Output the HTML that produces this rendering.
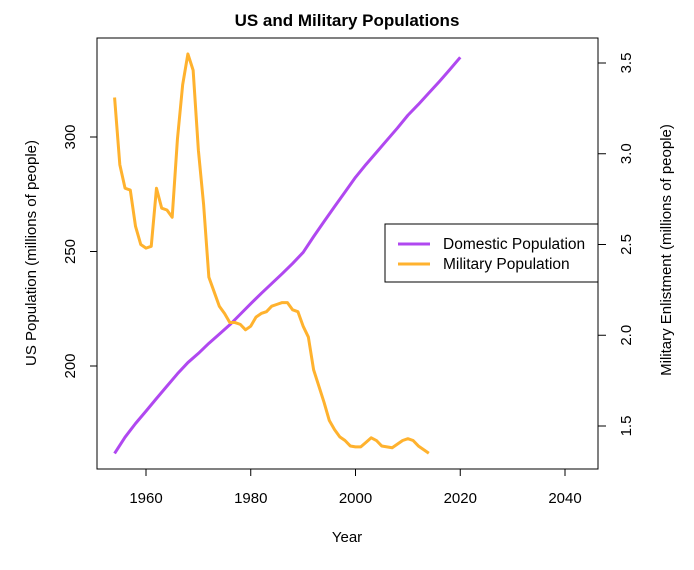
<!DOCTYPE html>
<html><head><meta charset="utf-8"><style>
body{margin:0;background:#fff}
svg text{font-family:"Liberation Sans",sans-serif;fill:#000}
</style></head><body>
<svg id="c" width="694" height="565">
<text x="347" y="26" text-anchor="middle" font-size="17" font-weight="bold">US and Military Populations</text>
<rect x="97" y="38" width="501" height="431" fill="none" stroke="#000"/>
<g id="axes"></g>
<g id="series"></g>
<text x="347" y="542" text-anchor="middle" font-size="15">Year</text>
<text transform="translate(36,253) rotate(-90)" text-anchor="middle" font-size="15">US Population (millions of people)</text>
<text transform="translate(671,250) rotate(-90)" text-anchor="middle" font-size="15">Military Enlistment (millions of people)</text>
<g>
<rect x="385" y="224" width="213" height="58" fill="#fff" stroke="#000"/>
<line x1="398" y1="244" x2="430" y2="244" stroke="#B048F0" stroke-width="3"/>
<text x="443" y="249" font-size="15.5">Domestic Population</text>
<line x1="398" y1="264" x2="430" y2="264" stroke="#FFB22E" stroke-width="3"/>
<text x="443" y="269" font-size="15.5">Military Population</text>
</g>
</svg>
<script>
const domYears=[1954,1956,1958,1960,1962,1964,1966,1968,1970,1972,1974,1976,1978,1980,1982,1984,1986,1988,1990,1992,1994,1996,1998,2000,2002,2004,2006,2008,2010,2012,2014,2016,2018,2020];
const domValues=[161.8,168.9,174.9,180.3,185.8,191.2,196.6,201.5,205.5,209.9,213.9,218.0,222.6,227.2,231.7,236.0,240.3,244.8,249.6,256.5,263.1,269.6,276.0,282.4,288.0,293.3,298.6,303.9,309.5,314.2,319.2,324.2,329.4,334.8];
const milYears=[1954,1955,1956,1957,1958,1959,1960,1961,1962,1963,1964,1965,1966,1967,1968,1969,1970,1971,1972,1973,1974,1975,1976,1977,1978,1979,1980,1981,1982,1983,1984,1985,1986,1987,1988,1989,1990,1991,1992,1993,1994,1995,1996,1997,1998,1999,2000,2001,2002,2003,2004,2005,2006,2007,2008,2009,2010,2011,2012,2013,2014];
const milValues=[3.31,2.94,2.81,2.80,2.60,2.50,2.48,2.49,2.81,2.70,2.69,2.65,3.08,3.38,3.55,3.46,3.02,2.72,2.32,2.24,2.16,2.12,2.07,2.07,2.06,2.03,2.05,2.10,2.12,2.13,2.16,2.17,2.18,2.18,2.14,2.13,2.05,1.99,1.81,1.72,1.63,1.53,1.48,1.44,1.42,1.39,1.385,1.385,1.41,1.435,1.42,1.39,1.385,1.38,1.40,1.42,1.43,1.42,1.39,1.37,1.35];
const xTicks=[1960,1980,2000,2020,2040];
const leftTicks=[200,250,300];
const rightTicks=[1.5,2.0,2.5,3.0,3.5];
const NS="http://www.w3.org/2000/svg";
const x=v=>146+(v-1960)*419/80;
const yL=v=>137+(300-v)*2.29;
const yR=v=>426-(v-1.5)*181.5;
const axes=document.getElementById('axes'),series=document.getElementById('series');
function mk(tag,attrs,parent,txt){const e=document.createElementNS(NS,tag);for(const k in attrs)e.setAttribute(k,attrs[k]);if(txt!==undefined)e.textContent=txt;parent.appendChild(e);return e;}
mk('line',{x1:x(1960),x2:x(2040),y1:469,y2:469,stroke:'#000'},axes);
xTicks.forEach(t=>{
 const l=mk('line',{x1:x(t),x2:x(t),y1:469,y2:476,stroke:'#000'},axes);
 
 
 const tx=mk('text',{x:x(t),y:503,'text-anchor':'middle','font-size':15},axes,t);
 
 
});
leftTicks.forEach(t=>{
 mk('line',{x1:90,x2:97,y1:yL(t),y2:yL(t),stroke:'#000'},axes);
 const tx=mk('text',{transform:`translate(75,${yL(t)}) rotate(-90)`,'text-anchor':'middle','font-size':15},axes,t);
 
 
});
rightTicks.forEach(t=>{
 mk('line',{x1:598,x2:606,y1:yR(t),y2:yR(t),stroke:'#000'},axes);
 const tx=mk('text',{transform:`translate(631,${yR(t)}) rotate(-90)`,'text-anchor':'middle','font-size':15},axes,t.toFixed(1));
 
 
});
const dp=mk('polyline',{points:domYears.map((yr,i)=>x(yr)+','+yL(domValues[i])).join(' '),fill:'none',stroke:'#B048F0','stroke-width':3,'stroke-linejoin':'round'},series);


const mp=mk('polyline',{points:milYears.map((yr,i)=>x(yr)+','+yR(milValues[i])).join(' '),fill:'none',stroke:'#FFB22E','stroke-width':3,'stroke-linejoin':'round'},series);


</script>
</body></html>
